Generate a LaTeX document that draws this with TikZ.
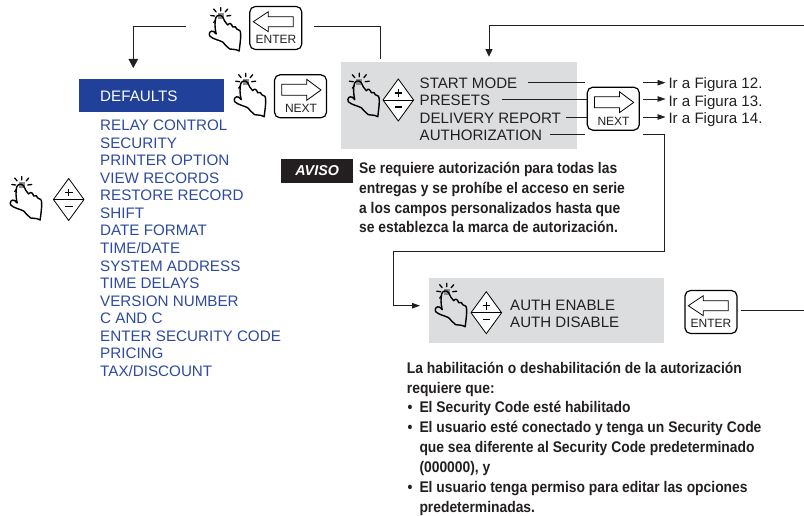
\documentclass[tikz,border=0pt]{standalone}
\usepackage{fontspec}
\setmainfont{Liberation Sans}
\newfontfamily\condbold[FakeStretch=0.9]{Liberation Sans Bold}
\usetikzlibrary{arrows.meta}
\definecolor{panelgray}{HTML}{DCDDDE}
\definecolor{headblue}{HTML}{21409A}
\definecolor{listblue}{HTML}{2E4A9E}
\definecolor{ink}{HTML}{231F20}
\newcommand{\sz}[1]{\fontsize{#1}{#1}\selectfont}
\tikzset{
  x=1pt,y=-1pt,
  txt/.style={anchor=west,inner sep=0pt,text height=10.9pt,text depth=0pt,text=ink},
  listitem/.style={txt,text=listblue,font=\sz{15.2}},
  paneltxt/.style={txt,font=\sz{15.1}},
  figtxt/.style={txt,font=\sz{15.1}},
  note/.style={txt,font=\condbold\sz{15.4}},
  panel/.style={fill=panelgray,draw=none,inner sep=0pt},
  keybox/.style={draw=black,line width=1.2pt,rounded corners=5.5pt,minimum width=52pt,minimum height=43pt,inner sep=0pt,fill=white},
  keylabel/.style={inner sep=0pt,text=ink,font=\sz{12}},
  wire/.style={draw=ink,line width=0.8pt},
  wirearrow/.style={wire,-{Triangle[length=7.5pt,width=7pt]}},
  bigarrow/.style={wire,-{Triangle[length=9pt,width=9.5pt]}},
  smallarrow/.style={wire,-{Triangle[length=8pt,width=5.5pt]}},
  pics/hand/.style={code={
    \fill[black!45] (-3,-3) rectangle (3,3);
    \draw[black,line width=1.4pt,line join=round,line cap=round,fill=none]
      (-4.5,18) .. controls (-6,12) and (-6,6) .. (-5,2)
      .. controls (-4,-1) and (0,-2) .. (2,1)
      .. controls (3,4) and (5,7) .. (7,9)
      .. controls (9,6) and (11,8) .. (12,11)
      .. controls (14,10) and (16,11) .. (16,13)
      .. controls (19,13) and (20,15) .. (20,19)
      .. controls (20,24) and (19,30) .. (18.5,35)
      .. controls (15,33) and (12,33.5) .. (9,33)
      .. controls (6,31) and (4,28) .. (2,26)
      .. controls (-2,24) and (-8,23) .. (-11,20)
      .. controls (-12.5,17) and (-10,14) .. (-7,15.5)
      -- (-4.5,18);
    \draw[black,line width=1.3pt,line cap=round]
      (0,-8.5) -- (0,-5) (7,-7) -- (4.5,-4) (-7,-7) -- (-4.5,-4)
      (6,0) -- (10,-0.5) (-6,0) -- (-10,-0.5) (-7,6.5) -- (-5,4);
  }},
  pics/plusminus/.style={code={
    \draw[black,line width=0.8pt,line join=miter,fill=white] (-15.3,0) -- (0,-21) -- (15.3,0) -- (0,21) -- cycle;
    \draw[black,line width=0.8pt] (-15.3,0) -- (15.3,0);
    \draw[black,line width=1.2pt] (-3.8,-7) -- (3.8,-7) (0,-10.8) -- (0,-3.2) (-3.8,7) -- (3.8,7);
  }},
  pics/enterarrow/.style={code={
    \draw[black,line width=0.8pt,line join=miter] (4,15.7) -- (19,5.7) -- (19,10.7) -- (44,10.7) -- (44,20.7) -- (19,20.7) -- (19,25.7) -- cycle;
  }},
  pics/nextarrow/.style={code={
    \draw[black,line width=0.8pt,line join=miter] (47,15.7) -- (32.7,5) -- (32.7,10) -- (7.7,10) -- (7.7,21) -- (32.7,21) -- (32.7,26) -- cycle;
  }},
}
\begin{document}
\begin{tikzpicture}
\useasboundingbox (0,0) rectangle (804,516);

% panels
\node[panel,minimum width=235.7pt,minimum height=87.3pt] (panelA) at (458.9,105.6) {};
\node[panel,minimum width=235pt,minimum height=64.4pt] (panelB) at (546.8,310.5) {};
\node[fill=headblue,inner sep=0pt,minimum width=145pt,minimum height=32.7pt] (head) at (151.5,95.4) {};
\node[txt,text=white,font=\sz{15.2}] (headtxt) at (100,96) {DEFAULTS};

% blue list
\node[listitem] (l1) at (100,125) {RELAY CONTROL};
\node[listitem] (l2) at (100,142.7) {SECURITY};
\node[listitem] (l3) at (100,160) {PRINTER OPTION};
\node[listitem] (l4) at (100,177.7) {VIEW RECORDS};
\node[listitem] (l5) at (100,195) {RESTORE RECORD};
\node[listitem] (l6) at (100,212.7) {SHIFT};
\node[listitem] (l7) at (100,230.5) {DATE FORMAT};
\node[listitem] (l8) at (100,247.7) {TIME/DATE};
\node[listitem] (l9) at (100,265.7) {SYSTEM ADDRESS};
\node[listitem] (l10) at (100,283) {TIME DELAYS};
\node[listitem] (l11) at (100,300.7) {VERSION NUMBER};
\node[listitem] (l12) at (100,318.5) {C AND C};
\node[listitem] (l13) at (100,335.7) {ENTER SECURITY CODE};
\node[listitem] (l14) at (100,353.5) {PRICING};
\node[listitem] (l15) at (100,370.7) {TAX/DISCOUNT};

% panel A text
\node[paneltxt] (sm) at (419.5,83) {START MODE};
\node[paneltxt] (pr) at (419.5,100.5) {PRESETS};
\node[paneltxt] (dr) at (419.5,118) {DELIVERY REPORT};
\node[paneltxt] (au) at (419.5,135.5) {AUTHORIZATION};

% panel B text
\node[paneltxt] (ae) at (510,305) {AUTH ENABLE};
\node[paneltxt] (ad) at (510,322) {AUTH DISABLE};

% figure refs
\node[figtxt] (f12) at (668.3,83) {Ir a Figura 12.};
\node[figtxt] (f13) at (668.3,100.7) {Ir a Figura 13.};
\node[figtxt] (f14) at (668.3,118) {Ir a Figura 14.};

% keys
\node[keybox] (k1) at (275.8,28) {};
\pic at (249.3,6) {enterarrow};
\node[keylabel] (k1t) at (276,39.3) {ENTER};
\node[keybox] (k2) at (300.5,96.3) {};
\pic at (274,74.3) {nextarrow};
\node[keylabel] (k2t) at (301,108.5) {NEXT};
\node[keybox] (k3) at (613.3,108.7) {};
\pic at (586.7,86.7) {nextarrow};
\node[keylabel] (k3t) at (613.5,121) {NEXT};
\node[keybox] (k4) at (711,312) {};
\pic at (684.3,290) {enterarrow};
\node[keylabel] (k4t) at (711,323.5) {ENTER};

% hands and diamonds
\pic at (220.7,16) {hand};
\pic at (245.7,81.7) {hand};
\pic at (21.7,185) {hand};
\pic at (359.3,81.7) {hand};
\pic at (446.7,291.7) {hand};
\pic at (68.7,199.5) {plusminus};
\pic at (398.3,100) {plusminus};
\pic at (486.3,312.7) {plusminus};

% connectors: anchor coordinates
\coordinate (a1) at (186,26);
\coordinate (a2) at (133.3,26);
\coordinate (a3) at (133.3,68);
\draw[bigarrow] (a1) -- (a2) -- (a3);
\coordinate (b1) at (314.3,26);
\coordinate (b2) at (380,26);
\coordinate (b3) at (380,58.7);
\draw[wire] (b1) -- (b2) -- (b3);
\coordinate (c1) at (804,25.3);
\coordinate (c2) at (489,25.3);
\coordinate (c3) at (489,56.7);
\draw[wirearrow] (c1) -- (c2) -- (c3);

\coordinate (d1) at (528.3,82.7);
\coordinate (d1e) at (585,82.7);
\coordinate (d2) at (501.7,99);
\coordinate (d2e) at (k3.west |- d2);
\coordinate (d3) at (566,117);
\coordinate (d3e) at (k3.west |- d3);
\coordinate (d4) at (550,134.7);
\coordinate (d4e) at (585,134.7);
\draw[wire] (d1) -- (d1e);
\draw[wire] (d2) -- (d2e);
\draw[wire] (d3) -- (d3e);
\draw[wire] (d4) -- (d4e);

\coordinate (e1) at (643.3,82.7);
\coordinate (e1e) at (665.5,82.7);
\coordinate (e2) at (643.3,99);
\coordinate (e2e) at (665.5,99);
\coordinate (e3) at (643.3,117);
\coordinate (e3e) at (665.5,117);
\draw[smallarrow] (e1) -- (e1e);
\draw[smallarrow] (e2) -- (e2e);
\draw[smallarrow] (e3) -- (e3e);

\coordinate (g1) at (643.3,134.7);
\coordinate (g2) at (664.3,134.7);
\coordinate (g3) at (664.3,251.7);
\coordinate (g4) at (393.3,251.7);
\coordinate (g5) at (393.3,305.7);
\coordinate (g6) at (420,305.7);
\draw[smallarrow] (g1) -- (g2) -- (g3) -- (g4) -- (g5) -- (g6);

\coordinate (h2) at (804,310.7);
\draw[wire] (k4.east |- h2) ++(3,0) coordinate (h1) -- (h2);

% AVISO
\node[fill=ink,inner sep=0pt,minimum width=72.3pt,minimum height=23.4pt,text=white,font=\bfseries\itshape\sz{14.3}] (aviso) at (317.2,171) {AVISO};

% warning note
\node[note] (n1) at (359,168.5) {Se requiere autorización para todas las};
\node[note] (n2) at (359,188.5) {entregas y se prohíbe el acceso en serie};
\node[note] (n3) at (359,207.8) {a los campos personalizados hasta que};
\node[note] (n4) at (359,227.5) {se establezca la marca de autorización.};

% requirements
\node[note] (r1) at (406.7,368.3) {La habilitación o deshabilitación de la autorización};
\node[note] (r2) at (406.7,388.3) {requiere que:};
\node[note] (r3b) at (407.5,407.3) {•};
\node[note] (r3) at (419.3,407.3) {El Security Code esté habilitado};
\node[note] (r4b) at (407.5,427.3) {•};
\node[note] (r4) at (419.3,427.3) {El usuario esté conectado y tenga un Security Code};
\node[note] (r5) at (419.3,447.5) {que sea diferente al Security Code predeterminado};
\node[note] (r6) at (419.3,467.3) {(000000), y};
\node[note] (r7b) at (407.5,487.3) {•};
\node[note] (r7) at (419.3,487.3) {El usuario tenga permiso para editar las opciones};
\node[note] (r8) at (419.3,507) {predeterminadas.};
\end{tikzpicture}
\end{document}
